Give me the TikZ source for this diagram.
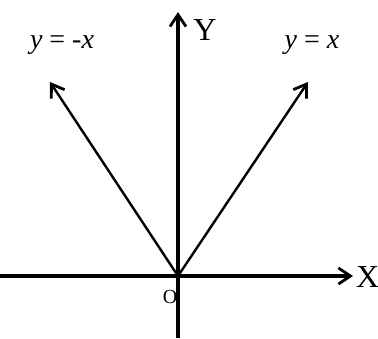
\documentclass[tikz,border=0pt]{standalone}
\usepackage{fontspec}
\setmainfont{Liberation Serif}
\usetikzlibrary{arrows.meta}
\begin{document}
\begin{tikzpicture}[x=1pt,y=-1pt,
  axis/.style={line width=3.2pt,-{Straight Barb[length=12pt,width=16pt,line width=2.8pt]}},
  diag/.style={line width=2.4pt,-{Straight Barb[length=12pt,width=16pt,line width=2.8pt]}},
  lbl/.style={font=\fontsize{28}{30}\selectfont,inner sep=0pt},
  axlbl/.style={font=\fontsize{32}{34}\selectfont,inner sep=0pt}]
\useasboundingbox (0,0) rectangle (378,338);
\coordinate (O) at (178,276);
\coordinate (xl) at (0,276);
\coordinate (xr) at (353,276);
\coordinate (yb) at (178,338);
\coordinate (yt) at (178,12);
\coordinate (dl) at (50,82);
\coordinate (dr) at (308,82);
\draw[axis] (xl) -- (xr);
\draw[axis] (yb) -- (yt);
\draw[diag] (O) -- (dl);
\draw[diag] (O) -- (dr);
\node[axlbl,anchor=west] (X) at (356,277) {X};
\node[axlbl] (Y) at (205,30) {Y};
\node[lbl] (lm) at (62,45) {\textit{y} = -\textit{x}};
\node[lbl] (lp) at (312,45) {\textit{y} = \textit{x}};
\node[font=\fontsize{20}{22}\selectfont,inner sep=0pt] (o) at (170,297) {O};
\end{tikzpicture}
\end{document}
